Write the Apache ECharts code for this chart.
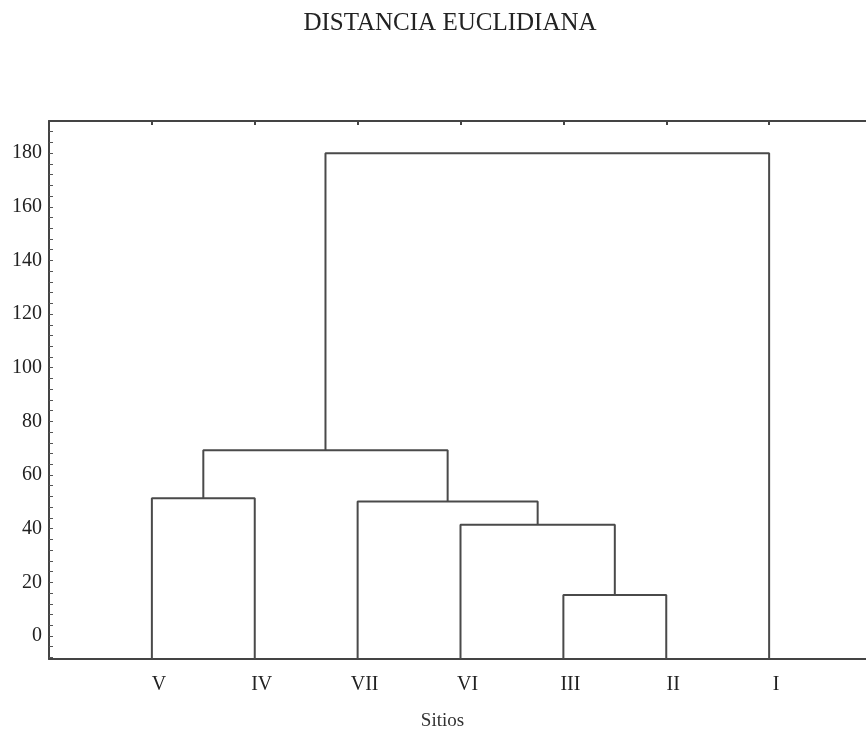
<!DOCTYPE html>
<html><head><meta charset="utf-8">
<script src="https://cdn.jsdelivr.net/npm/echarts@6/dist/echarts.min.js"></script>
<style>html,body{margin:0;padding:0;background:#fff}#c{width:866px;height:732px}</style>
</head><body><div id="c"></div>
<script>
// Leaves in plotted order (left to right)
var leaves = ['V','IV','VII','VI','III','II','I'];
// Merge steps: children refer to leaf names or earlier merge ids ("m0", "m1", ...)
var mergeLeft   = ['III','V', 'VI','VII','m1','m4'];
var mergeRight  = ['II', 'IV','m0','m2', 'm3','I'];
var mergeHeight = [15.3, 51.3, 41.5, 50.1, 69.2, 180];
var yTickLabels = [0,20,40,60,80,100,120,140,160,180];
var title = 'DISTANCIA EUCLIDIANA';
var xTitle = 'Sitios';

var yMin = -8.6, yMax = 192;
var pos = {}, hgt = {};
leaves.forEach(function(n,i){ pos[n] = i+1; hgt[n] = yMin; });
var series = [];
for (var k=0;k<mergeLeft.length;k++){
  var a = mergeLeft[k], b = mergeRight[k], h = mergeHeight[k], id = 'm'+k;
  series.push({
    type:'line', symbol:'none', silent:true, animation:false,
    lineStyle:{color:'#4a4a4a', width:2},
    data:[[pos[a],hgt[a]],[pos[a],h],[pos[b],h],[pos[b],hgt[b]]]
  });
  pos[id] = (pos[a]+pos[b])/2; hgt[id] = h;
}
var leafPos = leaves.map(function(n,i){return i+1;});
var minorTicks = [];
for (var t=-8;t<=188;t+=4) minorTicks.push(t);

var chart = echarts.init(document.getElementById('c'));
chart.setOption({
  backgroundColor:'#fff',
  animation:false,
  title:{text:title,left:445,textAlign:'center',top:6,
    textStyle:{fontFamily:'Liberation Serif',fontSize:25,fontWeight:'normal',color:'#222'}},
  grid:{left:49,top:121,height:538,width:823,outerBoundsMode:'none',containLabel:false},
  xAxis:[{
    type:'value',min:0,max:8,position:'bottom',
    name:xTitle,nameLocation:'middle',nameGap:53,
    nameTextStyle:{fontFamily:'Liberation Serif',fontSize:19,color:'#333',padding:[0,36,0,0]},
    axisLine:{show:true,onZero:false,lineStyle:{color:'#444',width:2}},
    axisTick:{show:false},
    splitLine:{show:false},
    axisLabel:{customValues:leafPos,margin:16,padding:[0,0,0,14],
      fontFamily:'Liberation Serif',fontSize:20,color:'#222',
      formatter:function(v){return leaves[Math.round(v)-1]||'';}}
  },{
    type:'value',min:0,max:8,position:'top',
    axisLine:{show:true,onZero:false,lineStyle:{color:'#444',width:2}},
    axisTick:{show:true,inside:true,length:4,customValues:leafPos,lineStyle:{color:'#444',width:2}},
    axisLabel:{show:false},splitLine:{show:false}
  }],
  yAxis:[{
    type:'value',min:yMin,max:yMax,
    axisLine:{show:true,onZero:false,lineStyle:{color:'#444',width:2}},
    axisTick:{show:true,inside:true,length:4,customValues:minorTicks,lineStyle:{color:'#555',width:1}},
    splitLine:{show:false},
    axisLabel:{customValues:yTickLabels,margin:7,fontFamily:'Liberation Serif',fontSize:20,color:'#222'}
  }],
  series:series
});
</script></body></html>
